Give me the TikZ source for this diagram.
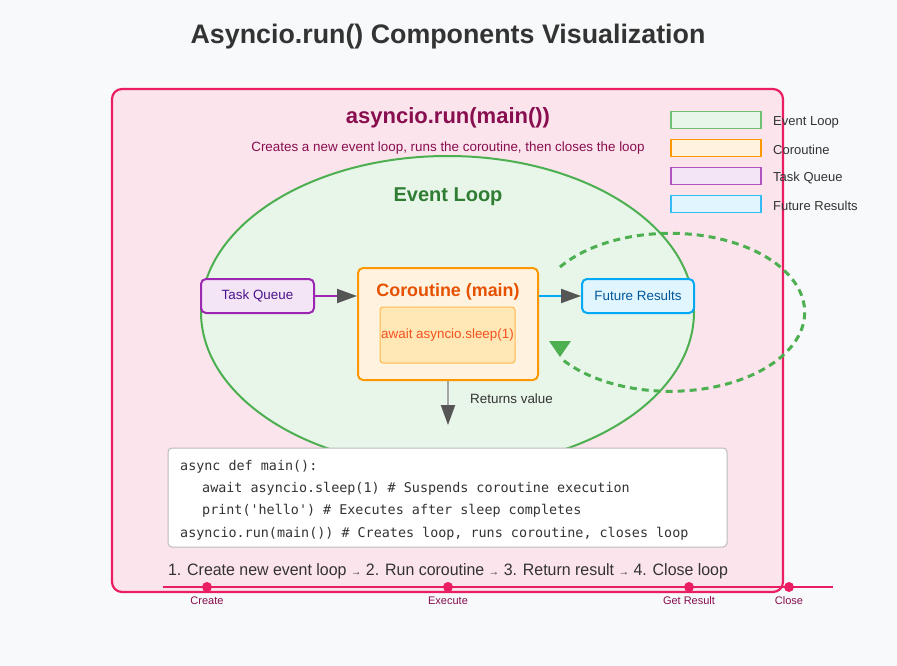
\documentclass[tikz,border=0pt]{standalone}
\usepackage{fontspec}
\setmainfont{Liberation Sans}
\setmonofont{DejaVu Sans Mono}
\usetikzlibrary{arrows.meta,shapes.geometric}
\definecolor{bgc}{HTML}{F8F9FA}
\definecolor{pinkS}{HTML}{E91E63}
\definecolor{pinkF}{HTML}{FCE4EC}
\definecolor{pinkT}{HTML}{880E4F}
\definecolor{greenS}{HTML}{4CAF50}
\definecolor{greenF}{HTML}{E8F5E9}
\definecolor{greenT}{HTML}{2E7D32}
\definecolor{purpS}{HTML}{9C27B0}
\definecolor{purpF}{HTML}{F3E5F5}
\definecolor{purpT}{HTML}{4A148C}
\definecolor{orS}{HTML}{FF9800}
\definecolor{orF}{HTML}{FFF3E0}
\definecolor{orT}{HTML}{E65100}
\definecolor{inF}{HTML}{FFE8B5}
\definecolor{inS}{HTML}{FFB74D}
\definecolor{inT}{HTML}{F4511E}
\definecolor{blS}{HTML}{03A9F4}
\definecolor{blF}{HTML}{E1F5FE}
\definecolor{blT}{HTML}{01579B}
\definecolor{darkT}{HTML}{333333}
\definecolor{tipc}{HTML}{555555}
\definecolor{codeS}{HTML}{BBBBBB}
\tikzset{
  fs/.style={font=\fontsize{#1}{#1}\selectfont},
  tip/.style={-{Triangle[length=20pt,width=14pt,color=tipc]}},
  smallbox/.style={draw, line width=2pt, rounded corners=5pt, minimum width=113pt, minimum height=34pt, inner sep=0pt},
  legbox/.style={draw, line width=1.3pt, minimum width=90pt, minimum height=17pt, inner sep=0pt},
  leglabel/.style={anchor=west, fs=13, text=darkT, inner sep=0pt},
  codeline/.style={anchor=base west, inner sep=0pt, font=\ttfamily\fontsize{13.4}{14}\selectfont, text=darkT},
  dot/.style={circle, fill=pinkS, minimum size=10pt, inner sep=0pt},
  dotlabel/.style={fs=11, text=pinkT, inner sep=0pt}
}
\begin{document}
\begin{tikzpicture}[x=1pt,y=-1pt]
\fill[bgc] (0,0) rectangle (897,666);
\useasboundingbox (0,0) rectangle (897,666);
% title
\node[font=\bfseries\fontsize{26.8}{27}\selectfont, text=darkT] (title) at (448,37) {Asyncio.run() Components Visualization};
% main pink box
\node[draw=pinkS, fill=pinkF, line width=2.2pt, rounded corners=10pt, minimum width=671pt, minimum height=503pt, inner sep=0pt] (main) at (447.5,340.5) {};
\node[text=pinkT, font=\bfseries\fontsize{22}{22}\selectfont] (mtitle) at (448,118) {asyncio.run(main())};
\node[text=pinkT, fs=13.4] (msub) at (448,148.5) {Creates a new event loop, runs the coroutine, then closes the loop};
% event loop ellipse
\node[ellipse, draw=greenS, fill=greenF, line width=2pt, minimum width=493pt, minimum height=312pt, inner sep=0pt] (loop) at (447.5,312) {};
\node[text=greenT, font=\bfseries\fontsize{20}{20}\selectfont] (looplabel) at (448,196.5) {Event Loop};
% dashed loop
\coordinate (loopstart) at (560,267);
\draw[greenS, line width=3pt, dash pattern=on 7pt off 5pt] (loopstart) arc[start angle=-145, end angle=144, x radius=134.5, y radius=79] coordinate (loopend);
\fill[greenS] (549,341) -- (571,341) -- (560,357) -- cycle;
% task queue
\node[smallbox, draw=purpS, fill=purpF, text=purpT, fs=13.4] (tq) at (257.5,296) {\raisebox{-1.5pt}{Task Queue}};
% coroutine
\node[draw=orS, fill=orF, line width=2pt, rounded corners=5pt, minimum width=180pt, minimum height=112pt, inner sep=0pt] (co) at (448,324) {};
\node[text=orT, font=\bfseries\fontsize{17.9}{18}\selectfont] (cotitle) at (448,292) {Coroutine (main)};
\node[draw=inS, fill=inF, line width=1pt, rounded corners=3pt, minimum width=135pt, minimum height=56pt, inner sep=0pt, text=inT, fs=13.4] (await) at (447.5,335) {\raisebox{-2pt}{await asyncio.sleep(1)}};
% future results
\node[smallbox, draw=blS, fill=blF, text=blT, minimum width=112pt, fs=13.4] (fr) at (638,296) {\raisebox{-1.5pt}{Future Results}};
% arrows
\draw[purpS, line width=2pt, tip] (tq.east) -- (tq.east -| co.west);
\draw[blS, line width=2pt, tip] (co.east |- fr.west) -- (fr.west);
\coordinate (retend) at (448,425);
\draw[gray!70, line width=2pt, tip] (co.south) -- (retend);
\node[anchor=west, fs=13.4, text=darkT, inner sep=0pt] (retlabel) at (470,399) {Returns value};
% code box
\node[draw=codeS, fill=white, line width=1pt, rounded corners=4pt, minimum width=559pt, minimum height=99pt, inner sep=0pt] (code) at (447.5,497.5) {};
\node[codeline] (c1) at (180,470) {async def main():};
\node[codeline] (c2) at (202,492) {await asyncio.sleep(1) \# Suspends coroutine execution};
\node[codeline] (c3) at (202,514.5) {print('hello') \# Executes after sleep completes};
\node[codeline] (c4) at (180,537) {asyncio.run(main()) \# Creates loop, runs coroutine, closes loop};
% steps text
\node[text=darkT, inner sep=0pt, xscale=0.965] (steps) at (448,571) {\fontsize{16.5}{17}\selectfont 1. Create new event loop {\fontsize{11}{11}\selectfont→} 2. Run coroutine {\fontsize{11}{11}\selectfont→} 3. Return result {\fontsize{11}{11}\selectfont→} 4. Close loop};
% legend
\node[legbox, draw=greenS!80, fill=greenF] (lg1) at (716,120) {};
\node[legbox, draw=orS, fill=orF] (lg2) at (716,148) {};
\node[legbox, draw=purpS!80, fill=purpF] (lg3) at (716,176) {};
\node[legbox, draw=blS!80, fill=blF] (lg4) at (716,204) {};
\node[leglabel] (lt1) at (773,122) {Event Loop};
\node[leglabel] (lt2) at (773,150) {Coroutine};
\node[leglabel] (lt3) at (773,178) {Task Queue};
\node[leglabel] (lt4) at (773,206) {Future Results};
% timeline
\coordinate (tlstart) at (163,587);
\coordinate (tlend) at (833,587);
\draw[pinkS, line width=2pt] (tlstart) -- (tlend);
\node[dot] (d1) at (207,587) {};
\node[dot] (d2) at (448,587) {};
\node[dot] (d3) at (689,587) {};
\node[dot] (d4) at (789,587) {};
\node[dotlabel] (l1) at (207,601) {Create};
\node[dotlabel] (l2) at (448,601) {Execute};
\node[dotlabel] (l3) at (689,601) {Get Result};
\node[dotlabel] (l4) at (789,601) {Close};
\end{tikzpicture}
\end{document}
